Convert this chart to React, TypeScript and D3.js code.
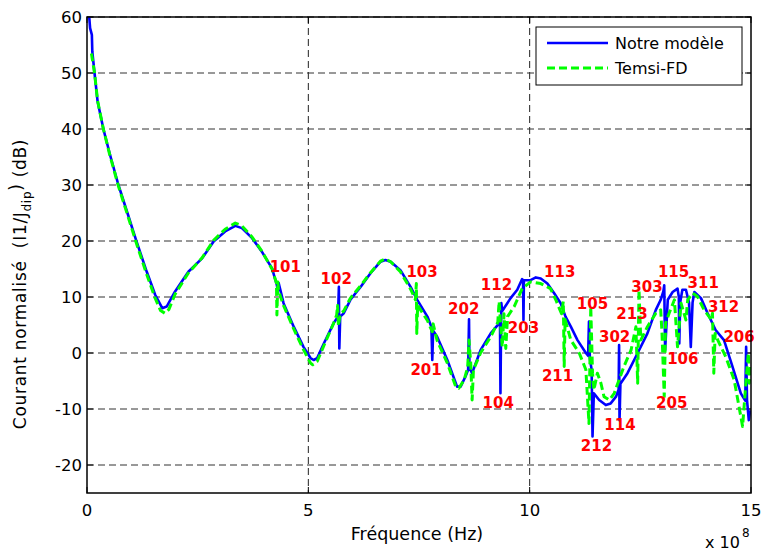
import React from "react";
import * as d3 from "d3";

const xTicks = [0, 5, 10, 15];
const yTicks = [-20, -10, 0, 10, 20, 30, 40, 50, 60];

const seriesNames = ["Notre modèle", "Temsi-FD"];

// [frequency (x1e8 Hz), dB]
const notreModele: [number, number][] = [
  [0.05, 60], [0.07, 58], [0.11, 56.8], [0.12, 53.8], [0.17, 50], [0.24, 44.9], [0.37, 40], [0.52, 35.4],
  [0.71, 30], [0.93, 24.6], [1.12, 19.9], [1.35, 14.5], [1.54, 10.4], [1.70, 8.0], [1.80, 8.3], [1.99, 11],
  [2.29, 14.5], [2.60, 16.9], [2.86, 19.9], [3.12, 21.7], [3.35, 22.7], [3.50, 22.3], [3.73, 20.5],
  [3.95, 18.1], [4.18, 15.1], [4.29, 12.1], [4.31, 11.0], [4.33, 12.5], [4.44, 8.9], [4.67, 4.7],
  [4.89, 1.1], [5.05, -0.9], [5.12, -1.25], [5.20, -0.9], [5.35, 1.7], [5.57, 5.3], [5.67, 6.5],
  [5.69, 11.8], [5.70, 0.8], [5.72, 6.5], [5.80, 7.1], [5.95, 9.5], [6.18, 11.8], [6.40, 14.2],
  [6.63, 16.3], [6.74, 16.6], [6.86, 16.3], [7.08, 14.8], [7.31, 11.8], [7.46, 9.5], [7.69, 6.5],
  [7.78, 4.7], [7.80, -1.25], [7.82, 4.0], [7.91, 2.9], [8.14, -1.25], [8.36, -6.0], [8.44, -6.0],
  [8.55, -4.2], [8.61, -3.0], [8.63, 6.0], [8.64, -2.7], [8.70, -3.6], [8.89, 0.5], [9.12, 3.5],
  [9.31, 5.3], [9.33, 5.5], [9.34, -7.2], [9.36, 8.9], [9.38, 7.5], [9.57, 9.8], [9.72, 11.3],
  [9.83, 13.2], [9.85, 13.0], [9.86, 5.9], [9.87, 13.0], [10.02, 13.0], [10.14, 13.5], [10.25, 13.3],
  [10.40, 12.4], [10.55, 10.7], [10.70, 8.9], [10.81, 6.5], [10.93, 4.7], [11.08, 2.3], [11.27, 0],
  [11.32, -0.5], [11.34, 5.6], [11.36, -1], [11.40, -3], [11.42, -14.9], [11.45, -7.2], [11.57, -8.4],
  [11.72, -9.3], [11.83, -9.0], [11.95, -7.8], [12.01, -6.5], [12.02, 1.4], [12.03, -12], [12.05, -5.5],
  [12.21, -3.6], [12.44, 0], [12.66, 3.5], [12.85, 7.7], [12.96, 9.5], [13.02, 11], [13.04, 12.1],
  [13.06, 0.5], [13.08, 3.5], [13.12, 9.5], [13.23, 10.9], [13.34, 11.5], [13.37, 10], [13.38, 1.7],
  [13.40, 9], [13.45, 11.3], [13.53, 11.3], [13.60, 9], [13.64, 1.1], [13.68, 9], [13.72, 10.9],
  [13.87, 9.8], [14.02, 7.1], [14.20, 4.1], [14.39, 2.3], [14.58, -2.4], [14.77, -7.2], [14.87, -8.5],
  [14.89, 1.1], [14.91, -8.4], [14.95, -12], [14.98, -10.2],
];

const temsiFD: [number, number][] = [
  [0.10, 53.5], [0.17, 50], [0.24, 45], [0.37, 40], [0.52, 35.2], [0.71, 29.8], [0.93, 24.3], [1.12, 19.5],
  [1.35, 14], [1.54, 9.8], [1.66, 7.6], [1.76, 7.1], [1.85, 7.8], [1.99, 10.5], [2.29, 14.3], [2.60, 17],
  [2.86, 20.1], [3.12, 22.1], [3.35, 23.2], [3.50, 22.7], [3.73, 20.7], [3.95, 18.2], [4.18, 15],
  [4.28, 12.5], [4.29, 6.8], [4.31, 12.7], [4.33, 11], [4.44, 8.5], [4.67, 4.3], [4.89, 0.6],
  [5.05, -1.8], [5.10, -2.1], [5.20, -1.5], [5.35, 1.3], [5.57, 5.3], [5.64, 6.8], [5.66, 8.5],
  [5.68, 4.8], [5.72, 7], [5.80, 7.5], [5.95, 9.8], [6.18, 12], [6.40, 14.3], [6.63, 16.4], [6.74, 16.8],
  [6.86, 16.3], [7.08, 14.5], [7.31, 11.4], [7.42, 9.5], [7.44, 12.4], [7.45, 3.5], [7.47, 8.5],
  [7.69, 5.8], [7.80, 3.8], [7.82, 5.2], [7.91, 2.2], [8.14, -1.8], [8.33, -6.0], [8.40, -6.3],
  [8.52, -4.8], [8.60, -2.5], [8.63, 2.3], [8.67, -2], [8.70, -8.4], [8.73, -3], [8.89, 0], [9.12, 2.9],
  [9.28, 5.5], [9.31, 9.2], [9.34, 5.5], [9.38, 1.1], [9.42, 7], [9.46, 0.8], [9.50, 6.5], [9.65, 8.3],
  [9.83, 11.5], [10.02, 12.7], [10.25, 12.4], [10.47, 11.5], [10.59, 9.5], [10.72, 7], [10.76, 9.2],
  [10.78, -2.4], [10.80, 6], [10.93, 2.3], [11.12, 0], [11.27, -3], [11.34, -12.6], [11.38, 8.3],
  [11.42, -3.6], [11.45, -6.6], [11.53, -3.6], [11.61, -5.4], [11.68, -7.8], [11.80, -8.4],
  [11.91, -7.2], [12.02, -4.8], [12.13, -2.4], [12.29, 0.5], [12.40, 4.7], [12.44, -5.4], [12.47, 11.3],
  [12.51, 2.3], [12.66, 4.7], [12.85, 7.1], [12.96, 7.7], [12.99, 3.5], [13.04, -7.8], [13.07, 5.3],
  [13.15, 7.1], [13.27, 9.5], [13.34, 1.1], [13.42, 8.9], [13.53, 5.9], [13.57, 9.5], [13.68, 10.7],
  [13.79, 10.1], [13.94, 7.7], [14.10, 6], [14.13, 7.1], [14.16, -3.6], [14.19, 3.5], [14.25, 2.3],
  [14.43, -0.7], [14.62, -4.8], [14.81, -13.1], [14.89, -4.8], [14.94, 0], [14.96, -5.4], [14.99, -2.4],
];

const modeLabels = ["101", "102", "103", "201", "202", "104", "112", "203", "113", "211", "105", "212",
  "114", "302", "213", "303", "115", "205", "106", "311", "312", "206"];
const modeLabelX = [4.48, 5.63, 7.57, 7.66, 8.51, 9.29, 9.25, 9.86, 10.68, 10.63, 11.42, 11.51,
  12.04, 11.92, 12.31, 12.65, 13.25, 13.21, 13.46, 13.92, 14.38, 14.73];
const modeLabelY = [15.5, 13.3, 14.6, -3.0, 7.9, -8.8, 12.3, 4.6, 14.5, -4.1, 8.9, -16.5,
  -12.7, 2.9, 7.1, 11.8, 14.5, -8.9, -0.9, 12.6, 8.3, 2.9];

const FONT = "'DejaVu Sans', Arial, sans-serif";

export default function App() {
  const W = 762, H = 551;
  const L = 87, R = 751, T = 17, B = 493;
  const x = d3.scaleLinear().domain([0, 15]).range([L, R]);
  const y = d3.scaleLinear().domain([-25, 60]).range([B, T]);
  const line = d3.line<[number, number]>().x(d => x(d[0])).y(d => y(d[1]));

  return (
    <svg width={W} height={H} style={{ position: "absolute", left: 0, top: 0, background: "#fff" }}
      fontFamily={FONT}>
      <defs>
        <clipPath id="plotclip">
          <rect x={L} y={T} width={R - L} height={B - T} />
        </clipPath>
      </defs>
      <rect x={0} y={0} width={W} height={H} fill="#fff" />
      {/* grid */}
      {xTicks.slice(1, -1).map(t => (
        <line key={"gx" + t} x1={x(t)} x2={x(t)} y1={T} y2={B} stroke="#222" strokeWidth={1}
          strokeDasharray="7,4" />
      ))}
      {yTicks.map(t => (
        <line key={"gy" + t} x1={L} x2={R} y1={y(t)} y2={y(t)} stroke="#333" strokeWidth={1}
          strokeDasharray="7,4" />
      ))}
      {/* ticks */}
      {xTicks.map(t => (
        <g key={"tx" + t}>
          <line x1={x(t)} x2={x(t)} y1={B} y2={B - 6} stroke="#000" />
          <line x1={x(t)} x2={x(t)} y1={T} y2={T + 6} stroke="#000" />
          <text x={x(t)} y={516} textAnchor="middle" fontSize={16.5} fill="#000">{t}</text>
        </g>
      ))}
      {yTicks.map(t => (
        <g key={"ty" + t}>
          <line x1={L} x2={L + 6} y1={y(t)} y2={y(t)} stroke="#000" />
          <line x1={R} x2={R - 6} y1={y(t)} y2={y(t)} stroke="#000" />
          <text x={82} y={y(t) + 6} textAnchor="end" fontSize={16.5} fill="#000">{t}</text>
        </g>
      ))}
      {/* series */}
      <g clipPath="url(#plotclip)">
        <path d={line(notreModele) || ""} fill="none" stroke="#0000ff" strokeWidth={2.6}
          strokeLinejoin="round" />
        <path d={line(temsiFD) || ""} fill="none" stroke="#00ff00" strokeWidth={3}
          strokeDasharray="8,4" strokeLinejoin="round" />
      </g>
      {/* mode labels */}
      {modeLabels.map((s, i) => (
        <text key={s} x={x(modeLabelX[i])} y={y(modeLabelY[i]) + 5.5} textAnchor="middle"
          fontSize={15} fontWeight="bold" fill="#ff0000">{s}</text>
      ))}
      {/* frame */}
      <rect x={L} y={T} width={R - L} height={B - T} fill="none" stroke="#000" strokeWidth={1.5} />
      {/* legend */}
      <rect x={536} y={27} width={206} height={58} fill="#fff" stroke="#000" strokeWidth={1} />
      <line x1={547} x2={608} y1={43} y2={43} stroke="#0000ff" strokeWidth={2.6} />
      <line x1={547} x2={608} y1={68} y2={68} stroke="#00ff00" strokeWidth={3} strokeDasharray="8,4" />
      <text x={615} y={49} fontSize={16} fill="#000">{seriesNames[0]}</text>
      <text x={615} y={74} fontSize={16} fill="#000">{seriesNames[1]}</text>
      {/* axis labels */}
      <text x={417} y={540} textAnchor="middle" fontSize={17.5} fill="#000">Fréquence (Hz)</text>
      <text x={705} y={548} fontSize={16} fill="#000">x 10</text>
      <text x={742} y={537} fontSize={12} fill="#000">8</text>
      <text transform="translate(26,284) rotate(-90)" textAnchor="middle" fontSize={17} letterSpacing={0.7}
        fill="#000">
        Courant normalisé{"\u00a0 "}(I1/J<tspan fontSize={12} dy={5}>dip</tspan><tspan dy={-9}>)</tspan><tspan dy={4}> (dB)</tspan>
      </text>
    </svg>
  );
}
